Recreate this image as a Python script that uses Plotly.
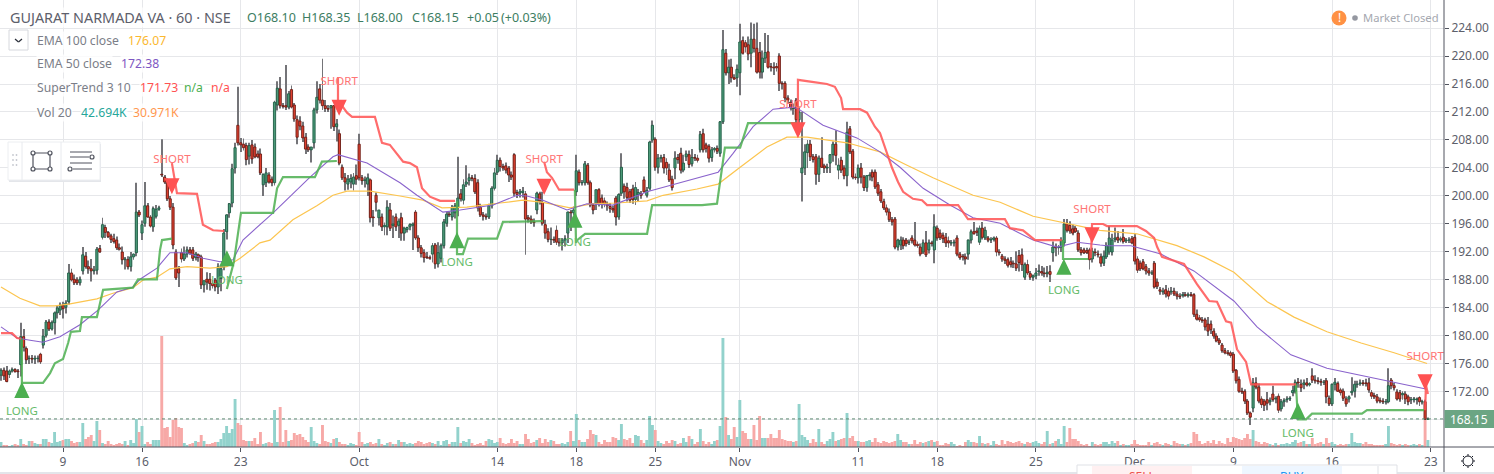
import plotly.graph_objects as go

# Candles are (open, high, low, close), one hourly bar per entry, by month.
bars_sep = [
(174.4,175.4,173.6,175.1),(175.1,175.5,173.7,174.3),(175.0,175.7,173.4,173.5),(174.5,175.2,174.0,175.0),(175.0,175.5,174.8,175.2),(175.2,175.4,174.8,174.9),(175.0,175.3,174.0,174.9),
(175.9,181.9,174.2,179.9),(179.9,181.0,177.8,178.4),(178.2,178.5,176.0,176.6),(176.8,177.2,176.0,176.8),(176.8,177.3,176.1,176.7),(176.7,177.2,176.0,176.8),(176.8,177.2,176.2,176.8),
(177.4,177.6,176.0,176.3),(178.7,181.0,178.2,180.0),(180.1,182.3,179.8,182.0),(182.0,182.4,180.7,181.0),(181.0,182.2,180.8,181.9),(181.9,183.5,180.2,183.3),(183.3,184.4,182.5,184.0),
(183.7,184.8,183.0,184.4),(184.4,184.9,182.5,183.9),(184.1,185.1,183.2,184.7),(184.9,190.3,184.5,189.0),(189.0,189.6,187.8,188.0),(188.1,188.8,187.3,187.6),(188.0,188.4,187.3,187.6),
(187.6,188.5,187.2,188.1),(189.3,192.7,188.8,191.6),(191.4,192.0,189.6,189.9),(189.9,190.8,188.9,189.6),(189.6,191.0,187.8,189.3),(189.3,190.0,188.8,189.4),(189.4,192.7,188.8,192.4),
(192.5,193.0,191.9,192.0),(194.1,196.9,193.8,195.9),(195.5,195.9,194.0,194.8),(194.8,195.0,194.0,194.2),(194.3,194.6,193.3,193.8),(193.9,194.6,193.2,193.5),(193.7,194.2,192.3,192.6),
(192.6,193.2,192.2,192.4),(192.0,192.8,190.2,190.9),(190.9,191.3,189.5,191.0),(190.9,191.4,189.5,189.9),(189.9,192.0,189.2,191.3),(191.3,191.8,190.9,191.7),(191.9,201.9,191.4,197.7),
(197.7,198.0,197.0,197.3),(194.7,196.5,193.7,195.9),(196.1,202.0,195.6,198.6),(198.6,199.0,196.9,197.0),(197.0,197.3,195.5,195.7),(195.6,198.5,194.9,198.2),(197.1,198.7,196.8,198.1),
(198.1,198.6,197.9,198.3),(203.1,208.1,202.7,203.0),(202.7,203.0,201.7,202.0),(202.0,202.5,199.3,199.6),(199.6,200.0,198.0,198.4),(198.4,199.0,192.4,193.0),(192.0,192.4,188.0,188.3),
(189.6,190.0,187.0,189.0),(191.9,192.5,190.5,191.0),(191.0,192.8,190.7,191.7),(191.7,192.8,191.2,192.3),(192.3,192.7,191.6,191.8),(192.3,192.7,190.7,191.1),(191.2,192.0,190.8,191.7),
(191.6,191.8,190.6,191.2),(191.3,191.6,186.7,187.3),(187.3,187.9,186.2,187.9),(188.1,189.1,186.6,187.7),(188.1,189.0,186.5,187.5),(187.5,188.0,186.8,187.2),(188.0,188.3,186.4,187.0),
(187.0,190.4,186.0,189.9),(188.2,190.1,186.4,189.6),(189.8,195.3,189.4,194.7),(194.9,197.4,193.8,197.3),(197.6,199.0,196.9,198.9),(199.0,204.6,198.4,203.9),(204.0,207.6,203.2,206.9),
(210.1,215.6,207.2,207.6),(207.6,208.3,206.3,207.3),(207.4,208.2,206.5,206.9),(207.2,207.6,204.4,205.2),(205.7,207.6,204.5,207.2),(207.3,208.0,204.6,205.3),(207.0,207.5,205.4,205.6),
(206.0,206.5,205.4,205.6),(206.0,206.8,203.0,203.3),(201.6,203.2,200.0,203.1),(201.9,204.0,201.3,203.3),(203.0,203.4,201.8,202.0),(202.4,202.8,201.4,201.9),(201.9,213.6,201.5,213.4),
(213.0,216.4,212.2,215.4),(215.3,217.0,212.5,212.9),(212.9,213.3,212.5,212.8),(212.9,218.7,212.3,212.7),(212.7,215.0,212.4,214.6),(215.2,215.8,212.5,212.7),(213.0,213.3,210.6,211.0),
(210.9,211.5,207.4,208.4),(210.7,211.4,209.4,210.0),(210.0,210.6,207.7,208.3),(208.4,209.0,206.0,206.7),(207.0,207.4,206.3,206.6),(206.6,207.0,204.8,207.0),(207.6,212.6,206.8,212.3),
(212.3,216.4,211.8,214.1),(215.3,216.0,213.2,213.7),(213.7,219.6,212.3,212.9),(212.9,213.7,212.0,212.5),(212.5,213.0,212.0,212.4),(212.6,213.0,209.6,212.9),(212.9,213.0,209.3,209.9),
(209.9,211.0,207.8,210.3),(208.9,209.5,204.4,204.7),(204.1,204.5,202.3,202.6),(202.6,203.3,200.8,202.0),(201.7,203.0,200.9,202.4),(202.0,203.1,201.1,202.5),(201.7,203.3,200.8,202.7),
(202.9,204.5,201.6,202.4),
]
bars_oct = [
(207.4,208.9,202.2,202.6),(202.6,203.0,201.6,202.2),(202.2,202.8,201.2,202.3),(201.7,203.2,200.0,202.6),(202.3,202.5,196.2,196.9),(197.0,198.0,195.6,196.9),(200.1,200.5,197.8,199.1),
(196.9,198.0,195.8,198.0),(197.0,197.5,195.0,195.6),(195.6,196.2,194.4,195.8),(195.6,199.4,194.4,198.4),(198.0,199.0,195.0,195.4),(195.8,197.2,194.0,196.0),(197.0,197.5,195.0,195.6),
(195.8,196.8,194.0,196.4),(196.9,197.6,193.6,194.7),(194.7,195.6,193.6,195.4),(195.2,195.6,194.8,195.5),(195.6,196.1,195.1,195.9),(195.8,196.2,192.3,196.0),(197.7,198.0,193.7,194.0),
(194.0,194.4,192.0,192.6),(192.6,193.0,191.2,191.8),(191.9,192.4,190.5,191.2),(191.3,192.0,191.0,191.2),(191.2,191.5,190.9,191.1),(191.7,193.3,190.5,192.9),(193.0,193.3,189.6,190.3),
(190.3,193.4,189.8,191.9),(191.1,193.2,190.5,192.9),(192.9,196.7,192.5,196.3),(196.1,197.7,195.6,197.4),(197.4,197.8,197.0,197.3),(197.0,198.7,196.5,198.4),(197.6,199.0,196.8,198.6),
(198.4,205.6,197.1,199.7),(200.3,201.0,199.2,199.6),(199.4,202.4,198.8,201.6),(201.7,204.4,201.3,202.0),(202.2,203.2,201.5,202.6),(202.6,203.0,202.1,202.5),(202.5,203.1,200.3,200.6),
(201.9,202.4,197.8,198.3),(198.4,198.9,197.0,197.3),(197.3,197.7,196.5,197.1),(197.1,197.5,196.6,197.0),(197.0,198.9,196.7,198.6),(198.6,201.4,198.2,201.1),(201.1,204.0,200.8,203.3),
(203.4,205.9,203.0,205.1),(205.1,205.5,203.5,204.2),(204.2,204.6,203.6,204.0),(204.3,204.8,203.2,203.7),(204.0,204.3,202.0,203.0),(203.0,203.5,202.3,202.7),(205.9,206.1,200.0,200.4),
(200.5,200.9,199.7,200.2),(200.4,201.0,199.8,200.6),(200.5,201.3,199.8,200.7),(200.3,200.7,191.6,196.7),(196.9,197.3,196.2,196.7),(196.7,197.2,196.0,196.3),(196.3,196.8,195.6,196.2),
(198.0,200.6,197.4,200.4),(200.3,200.6,198.8,199.3),(199.1,200.6,195.8,196.1),(195.9,196.6,193.9,194.7),(194.9,195.4,193.4,193.8),(193.8,195.5,193.0,193.8),(193.8,194.2,193.3,193.7),
(195.1,195.8,193.0,193.4),(193.4,194.0,192.8,193.3),(193.3,194.0,192.2,193.7),(193.7,194.4,192.8,193.9),(194.7,197.8,193.3,197.7),(197.7,198.0,195.0,197.6),(197.6,198.5,197.3,198.0),
(200.6,205.9,200.0,203.6),(203.4,203.8,201.5,201.9),(201.9,202.3,201.5,201.9),(201.9,205.0,201.5,204.6),(204.4,204.7,201.6,201.9),(201.9,202.2,198.4,198.7),(198.7,199.0,197.4,198.0),
(198.9,200.9,198.0,200.9),(200.9,201.1,198.5,198.9),(199.7,200.2,198.2,198.9),(199.3,199.8,198.4,198.9),(198.8,199.2,197.9,198.6),(198.5,199.0,197.6,198.2),(198.2,198.6,197.6,198.0),
(199.7,200.0,195.8,197.0),(197.0,200.4,196.6,200.2),(200.4,206.1,200.0,204.1),(201.4,201.8,199.6,200.6),(201.2,201.9,199.2,199.8),(200.6,201.0,199.0,199.4),(201.0,201.6,198.9,199.5),
(199.5,202.0,198.7,201.2),(200.2,201.0,199.3,200.5),(200.3,200.7,199.6,200.1),(202.3,202.8,200.5,200.6),(200.1,201.3,199.8,200.8),(201.1,207.9,200.8,207.7),(208.0,210.8,207.6,210.1),
(208.1,208.4,203.6,204.1),(204.1,206.0,203.2,205.4),(205.4,205.9,204.8,205.5),(205.5,206.0,203.2,204.0),(204.8,205.4,203.0,204.0),(203.7,204.6,202.0,202.3),(202.4,202.9,200.8,201.2),
(204.0,206.4,202.4,205.4),(205.5,206.0,204.6,205.2),(206.1,206.9,203.2,203.7),(203.7,205.9,203.4,204.7),(205.6,206.5,205.0,206.0),(205.9,206.5,204.0,204.5),(204.6,206.7,204.2,205.5),
(205.5,206.0,205.0,205.4),(205.4,205.9,204.8,205.1),(206.6,209.3,206.2,208.8),(208.9,209.6,206.2,206.6),(207.3,207.6,206.2,206.8),(207.1,207.4,204.8,205.4),(205.5,207.0,204.9,206.6),
(206.6,207.0,206.2,206.8),(206.8,207.2,206.0,206.4),(206.1,210.7,205.6,210.6),(210.6,223.7,210.3,220.9),(220.4,221.0,217.2,217.6),(217.6,219.5,216.0,218.4),(218.4,219.6,216.2,216.9),
(216.9,217.4,216.6,216.7),(216.9,218.8,215.6,218.1),
]
bars_nov = [
(217.6,224.6,214.4,222.0),(222.2,222.8,220.2,220.4),(221.9,222.3,220.5,221.3),(221.6,222.8,219.4,220.3),(220.4,224.8,218.4,222.4),(222.4,224.6,220.5,221.1),(221.1,224.8,217.5,217.7),
(220.5,222.0,216.8,217.7),(217.7,220.8,216.8,219.7),(219.7,223.3,219.0,220.5),(220.6,223.0,218.2,218.4),(218.5,219.0,217.8,218.4),(218.4,219.1,217.3,218.3),(218.5,219.0,217.8,218.3),
(220.0,220.4,215.0,216.1),(216.1,216.4,215.2,216.0),(216.1,216.4,213.4,214.0),(214.0,214.4,213.2,213.7),(213.4,213.8,212.2,212.6),(212.5,213.2,211.6,212.6),(213.7,214.0,210.4,210.9),
(210.9,212.8,208.8,212.0),(203.3,212.0,199.2,204.0),(204.0,207.4,203.0,206.3),(206.2,208.0,204.0,207.4),(207.4,208.0,205.0,205.6),(205.6,206.0,204.8,205.2),(205.6,206.0,201.6,203.1),
(203.1,205.8,202.0,205.4),(205.4,208.4,204.0,204.1),(204.3,204.6,203.3,204.0),(204.0,204.6,203.3,204.1),(204.7,206.0,203.3,205.9),(205.9,207.8,204.9,207.4),(207.4,209.4,204.4,205.8),
(203.7,205.4,202.4,204.4),(205.1,205.6,203.3,203.7),(204.0,204.4,202.4,202.9),(202.9,210.6,201.4,209.1),(209.6,210.0,206.0,206.3),(206.4,206.7,202.4,202.7),(202.7,203.2,202.3,202.6),
(202.6,204.5,201.8,204.0),(204.0,204.7,201.8,202.7),(202.7,203.0,200.7,201.2),(201.2,203.0,200.6,202.9),(202.9,203.4,202.2,203.0),(203.4,203.8,202.1,202.7),(203.4,203.8,201.0,201.3),
(201.6,202.0,200.0,200.4),(200.6,201.0,199.0,199.3),(199.2,199.6,198.0,198.3),(198.3,198.8,197.2,197.7),(197.7,198.2,196.3,196.6),(196.6,197.0,195.8,196.3),(196.7,197.0,192.4,192.7),
(192.7,193.9,192.2,193.7),(193.0,194.2,192.3,193.7),(193.7,194.1,192.4,192.9),(193.7,194.0,192.8,193.2),(193.4,193.8,193.0,193.4),(194.0,194.4,193.2,193.6),(193.7,196.3,192.8,193.0),
(193.1,193.5,192.6,192.9),(192.7,193.2,191.4,191.7),(192.0,193.8,191.7,193.3),(193.3,195.0,191.3,191.6),(192.3,193.8,191.8,193.3),(193.3,193.6,192.8,193.2),(192.3,197.4,190.4,195.6),
(195.4,195.8,193.6,194.0),(194.7,195.2,193.7,194.1),(194.4,194.8,193.3,193.9),(194.1,194.7,192.7,193.3),(193.6,194.2,192.6,193.3),(193.3,193.7,192.9,193.3),(193.3,193.8,192.8,193.4),
(194.0,194.4,191.4,191.7),(191.7,192.0,190.9,191.2),(191.4,191.7,190.8,191.3),(191.3,191.8,190.2,191.0),(191.7,193.8,190.9,193.7),(193.7,195.2,193.2,194.9),(194.9,196.3,194.5,194.6),
(195.0,195.5,194.3,194.8),(193.4,195.8,193.0,195.4),(195.4,196.3,193.8,194.1),(194.0,195.6,193.7,195.1),(194.0,194.3,193.4,193.7),(193.7,194.1,193.3,193.8),(193.8,194.2,193.5,194.0),
(194.0,194.3,191.4,192.0),(192.0,192.4,191.5,191.9),(191.4,191.7,190.6,191.0),(191.0,191.4,190.3,190.8),(190.9,191.2,189.8,190.1),(190.6,191.3,189.8,190.2),(190.4,190.8,189.7,190.3),
(190.3,192.1,189.3,189.7),(191.5,192.3,189.2,190.5),(191.6,192.5,189.3,190.2),(188.4,190.5,188.0,190.2),(190.2,190.9,188.7,189.0),(188.9,189.3,188.0,188.4),(188.4,188.8,187.9,188.6),
(188.6,189.7,188.1,189.0),(189.2,190.2,188.6,189.3),(189.2,190.0,188.6,189.0),(189.0,189.8,188.4,188.9),(188.9,190.0,188.4,189.1),(189.2,190.1,187.7,188.8),(191.9,193.5,190.6,192.7),
(192.7,193.2,191.4,192.6),(192.6,193.0,191.6,192.7),(192.7,194.1,192.0,193.7),(193.3,196.7,192.8,196.0),(196.1,196.7,194.8,195.1),(195.8,196.4,194.6,195.0),(195.3,195.9,194.4,194.7),
(195.4,195.7,194.7,194.9),(194.7,195.1,192.0,192.3),(192.3,192.7,191.5,191.9),(192.3,192.6,191.7,191.9),(192.2,192.6,191.7,191.9),(192.3,192.6,189.5,190.9),(191.0,192.6,190.5,192.1),
(192.0,192.5,191.4,191.9),(191.7,192.2,191.2,191.6),(191.3,191.8,189.9,190.4),(190.4,192.2,190.0,191.4),(191.3,193.4,191.0,192.9),(192.0,195.7,191.6,194.0),(192.0,194.6,191.5,193.7),
(193.8,195.5,193.4,194.0),(194.1,195.0,193.3,193.7),(193.7,194.2,193.4,193.9),(194.1,195.3,193.2,193.5),(193.6,194.0,193.3,193.7),(193.7,194.1,193.3,193.7),(193.9,194.3,193.1,193.3),
]
bars_dec = [
(194.1,194.6,190.2,190.7),(191.0,191.4,189.0,189.4),(190.4,190.8,189.3,189.6),(190.6,191.0,189.4,189.6),(189.9,190.3,188.8,189.3),(189.3,189.7,188.6,189.0),(189.0,189.4,188.7,189.0),
(190.4,190.7,186.8,187.0),(187.7,188.2,186.7,187.1),(186.6,187.0,185.9,186.4),(186.3,186.9,185.9,186.4),(186.6,187.3,185.5,186.0),(186.4,186.9,185.2,185.7),(186.3,187.0,185.9,186.4),
(186.4,186.9,185.7,186.0),(186.0,186.4,185.2,185.7),(185.7,186.1,185.3,185.6),(185.8,186.3,185.5,185.9),(185.9,186.3,185.6,185.8),(185.8,186.2,185.5,185.9),(185.9,186.3,185.6,185.8),
(185.9,186.1,182.7,183.1),(183.1,183.8,182.2,182.4),(182.6,183.0,182.0,182.3),(182.3,182.7,181.9,182.2),(182.3,182.6,180.8,181.3),(181.7,182.7,180.0,180.7),(181.7,182.2,180.3,180.9),
(180.7,181.1,179.6,180.0),(180.0,180.4,179.1,179.3),(179.4,179.7,178.7,179.0),(178.7,179.0,177.6,177.9),(177.9,178.3,177.4,177.6),(177.6,178.0,177.2,177.5),(177.6,177.9,176.9,177.2),
(177.4,177.7,174.7,175.0),(175.1,175.3,173.2,173.6),(173.8,174.2,171.9,172.1),(172.1,172.6,171.7,172.0),(172.1,172.4,170.3,170.7),(170.7,171.0,168.7,169.0),(169.0,169.2,167.3,168.4),
(169.7,174.0,169.1,173.3),(173.3,174.1,172.4,172.7),(172.7,173.2,170.4,170.7),(171.0,171.4,169.7,170.2),(170.7,171.0,169.3,170.1),(170.9,172.0,169.4,170.4),(170.6,171.2,170.1,170.8),
(171.7,172.9,170.6,170.9),(171.0,171.4,170.4,171.1),(171.4,171.8,169.0,169.4),(169.6,171.0,169.2,170.6),(170.6,171.1,169.9,170.8),(170.9,171.4,170.5,171.0),(171.0,171.4,170.7,171.1),
(171.9,172.9,171.4,172.2),(172.1,173.8,171.8,173.4),(173.4,174.0,172.6,173.3),(173.1,173.8,172.0,172.6),(173.1,173.8,172.4,173.3),(173.3,174.0,172.8,173.0),(173.0,173.4,172.8,173.2),
(174.3,175.4,173.3,173.7),(173.7,174.4,173.2,173.6),(173.6,174.1,173.1,173.5),(173.5,173.9,172.9,173.4),(173.4,173.7,173.0,173.4),(173.6,174.0,170.4,171.3),(171.1,171.5,170.0,170.3),
(170.3,173.2,170.0,173.1),(173.1,174.0,172.2,173.4),(173.2,173.5,172.0,172.1),(172.3,172.6,171.5,171.9),(172.1,172.5,170.7,171.1),(171.0,171.4,169.9,170.3),(171.0,171.5,170.5,171.3),
(171.9,174.1,171.5,172.1),(172.1,173.6,171.2,173.1),(173.1,173.6,172.6,173.1),(173.2,173.8,172.9,173.3),(173.3,173.7,172.9,173.2),(173.3,173.9,172.8,173.2),(173.3,174.0,171.9,172.3),
(171.9,172.3,171.0,171.4),(171.5,171.9,171.0,171.3),(171.3,171.7,170.4,170.7),(170.8,171.2,170.4,170.7),(170.7,171.1,170.3,170.6),(170.6,171.0,170.2,170.6),(170.6,175.4,170.4,172.9),
(173.7,174.0,172.4,172.9),(172.9,173.3,172.2,172.6),(172.0,172.4,170.8,171.0),(171.9,172.3,170.6,171.0),(171.6,172.1,170.9,171.8),(171.7,172.1,170.3,171.0),(171.3,171.6,170.1,170.6),
(170.9,171.3,170.3,170.9),(170.9,171.3,170.5,171.0),(170.9,171.2,170.2,171.0),(171.2,171.4,170.0,170.6),(170.6,170.9,170.2,170.6),(170.6,170.9,168.0,168.1),(168.10,168.35,168.00,168.15),
]

volume_k = [
30,12,12,6,12,18,12,48,18,12, 36,36,24,18,18,48,48,30,24,90, 30,36,42,48,48,36,24,30,30,144, 48,60,72,36,156,102,24,18,36,18,
12,18,24,18,36,12,42,24,168,90, 126,18,30,18,42,42,42,666,114,120, 60,162,174,120,114,24,12,18,24,36, 30,72,36,18,18,24,30,30,48,84,
126,84,108,288,144,132,42,36,36,36, 54,18,90,18,24,30,24,222,30,240, 30,102,36,42,84,72,78,60,42,30, 120,36,24,18,132,36,30,24,48,54,
30,18,18,12,24,18,12,90,30,18, 24,30,18,24,48,18,12,24,30,18, 18,42,30,30,18,24,18,24,36,30, 18,24,30,24,18,36,12,36,42,18,
30,30,120,24,36,30,48,24,12,18, 24,12,36,48,42,24,30,54,24,18, 24,48,24,36,18,18,78,48,24,30, 42,54,24,48,30,42,36,18,18,24,
18,30,96,36,198,42,30,30,48,102, 78,72,30,18,42,30,30,60,54,42, 138,48,42,54,24,72,66,42,24,42, 186,132,102,36,24,18,36,24,42,36,
18,24,54,30,66,48,18,30,108,36, 18,30,18,36,42,126,654,180,72,48, 120,60,282,96,84,48,48,132,42,186, 54,54,54,78,54,54,102,48,42,36,
36,30,36,258,72,60,42,24,48,30, 108,30,18,36,48,90,36,42,48,54, 204,54,66,36,36,30,30,36,42,30, 54,30,24,36,30,24,30,36,78,42,
30,30,18,18,42,18,30,24,30,36, 42,30,36,12,12,24,18,30,18,6, 12,6,30,42,30,30,24,66,24,18, 24,12,36,18,12,42,18,36,30,24,
30,36,24,18,30,24,30,36,24,18, 30,96,18,24,36,48,18,126,30,114, 48,48,36,18,12,18,6,30,18,12, 18,30,30,18,36,24,36,12,18,12,
12,18,42,18,12,12,12,30,12,24, 30,18,12,24,18,12,36,24,18,18, 12,18,24,90,78,36,18,24,36,24, 42,18,36,24,18,54,30,60,54,48,
42,54,78,48,102,36,30,18,30,24, 18,12,24,12,18,18,24,18,30,42, 24,30,36,18,18,54,18,24,30,18, 54,24,30,18,12,18,12,18,18,84,
30,24,24,18,30,18,18,12,12,12, 12,18,126,24,18,12,18,12,18,12, 12,18,12,18,12,162,42,
]

ema100_bar = [0,6.7,13.8,19.1,24.5,34,39.7,46.8,50.4,55.3,59.9,66,74.1,80.1,84.8,91.8,95.4,103.5,112,117.7,122.7,130.9,141.5,149.6,156.4,165.2,177,185.1,192.2,201.8,209.9,218.4,229.1,234.8,246.8,254.3,262.1,271.6,278.7,285.8,300,311.7,321.3,330.5,344.7,354.3,366,378,389.7,402.8,417,426.6,437.2,449,458.5,470.2,482.3,494,505.7]
ema100_val = [187,185.4,184.3,184.3,184.6,185.3,186.1,186.9,188,188.4,189.6,189.9,189.7,189.9,191.1,193.3,193.7,196.6,198.6,200.1,200.7,200.7,200,199.4,198.3,198.4,199,199.4,199.1,198.3,198.9,199,199.3,200.1,201,201.7,204.1,207,208.4,208.4,207.6,206.3,204.4,202.6,200.1,199.1,197.1,196.1,195.1,194.6,192.9,191.3,189.1,184.9,182.7,180.6,179,177.6,176.07]
ema50_bar = [0,5.7,10.3,14.9,20.9,28,34.4,41.1,46.8,49.3,55.3,59.9,66,71.6,77.7,82.3,85.8,96.5,109.6,117.7,119.5,129.8,141.5,147.5,156.7,162.8,174.5,183,186.5,192.2,200.7,207.8,217,229.1,236.2,247.9,254.3,259.6,266.7,273.8,280.9,283.3,291.5,303.5,311.7,318.8,327,336.5,344.7,354.3,366,374.5,381.6,389.7,392.2,400.7,411.3,423,437.2,445.4,457.4,470.2,488,505.7]
ema50_val = [181.3,179.7,179.4,179.1,179.9,181.6,183.7,186.3,187,188.1,189.7,191.9,191.9,191.1,190.6,190.9,193.7,197.6,202.7,205.6,205.9,204.7,201.9,200.1,197.7,198,198.7,200.1,200,199.4,198,198.9,198.7,200.6,201.4,202.7,203.4,206.1,209.9,212.4,212.7,212.3,210.1,208.3,206.3,204.1,201.1,198.7,196.9,196.1,193.7,192.7,193.4,193,192.9,192.9,191.7,189.3,185,181.3,177.3,175.4,173.9,172.38]

st_up_bar = [7.4,7.4,14.9,17.4,19.1,22,23.8,24.8,28,28.7,34,35.1,36.2,46.8,48.6,55.3,56.4,57.1,59.9,60.6,None,
             80.1,82.6,83.7,84.4,85.1,96.5,97.9,100,111.3,113.8,119.1,None,
             161.7,161.7,163.8,165.6,175.9,178,192.2,None,
             203.5,203.9,204.3,207.1,229.1,230.9,248.6,253.9,256.7,262.1,264.9,282.3,None,
             376.6,376.6,385.5,None,
             459.2,459.9,462.8,464.9,482.6,484.4,504.6]
st_up_val = [179.6,173.3,173.3,174.7,176.1,176.7,179,180.6,180.7,182.7,182.7,184.7,186.6,186.9,188.1,188.1,192.3,193.7,193.9,193.9,None,
             186.7,190.6,193.7,195.9,197.6,197.6,201.1,202.7,202.7,204.9,205,None,
             199.3,191.7,191.7,193.9,193.9,196.3,196.4,None,
             200.9,193.3,193.7,194.6,194.6,198.7,198.7,198.9,206.9,206.9,210.4,210.4,None,
             193.7,191,191,None,
             173.1,168.1,168.1,168.9,168.9,169.4,169.4]
st_down_bar = [0,3.9,5.7,7.1,None,
               60.6,62.4,69.5,71.6,75.2,79.1,None,
               119.5,119.5,122.7,124.5,132.6,135.1,137.9,140.8,142.6,145,147.5,149.3,152.1,155.7,161,None,
               192.6,193.6,195.4,197.9,203.2,None,
               282.6,282.6,287.6,292.9,295.7,297.9,298.6,304.6,307.1,309.9,311.7,314.2,316,318.1,319.9,323.4,326.6,328.4,339.4,342.9,356,357.8,362.4,366.7,376.2,None,
               386.5,386.9,390.8,392.2,402.8,406,408.9,410,411.7,419.5,424.1,428.4,431.2,434.4,436.2,438.3,441.5,443.3,459.2,None,
               505,505.3,506]
st_down_val = [180.4,180.4,179.7,179.6,None,
               204.7,200.4,200.3,195.9,195.1,195,None,
               217,213.7,211.9,211.3,211.3,207.6,207.3,205.9,204.9,204.7,204.1,201.1,199.9,199.3,199.3,None,
               204.9,203.4,202.6,200.9,200.9,None,
               210.4,216.6,216.3,216,215.6,214,212.4,212.4,211.9,209.9,209,206.1,204,202,200.6,199.6,199.4,198.7,198.7,196.7,196.7,195.4,195.1,193.7,193.7,None,
               191.1,196,196,195.7,195.7,195,194,192.7,191.3,190.3,187.4,185,184.9,182.1,181.9,178.1,176.3,173.1,173.1,None,
               169.4,173,171.7]

long_bar = [7.4,80.1,161.7,203.5,376.9,459.9]
long_val = [172.3,191.1,193.7,196.6,189.9,169.3]
long_label_val = [169.1,187.9,190.4,193.3,186.4,166]
short_bar = [60.6,119.9,192.6,282.6,386.9,505]
short_val = [201.4,212.6,201.3,209.4,194.4,173.4]
short_label_val = [205.1,216.3,205.1,213,198,177]

x_ticks = [22,50,85,127,176,204,232,262,304,332,367,402,437,472,507]
x_labels = ["9","16","23","Oct","14","18","25","Nov","11","18","25","Dec","9","16","23"]
y_ticks = [168,172,176,180,184,188,192,196,200,204,208,212,216,220,224]
last_close = 168.15

bars = bars_sep + bars_oct + bars_nov + bars_dec
bar_index = list(range(len(bars)))
opens = [b[0] for b in bars]
highs = [b[1] for b in bars]
lows = [b[2] for b in bars]
closes = [b[3] for b in bars]

FONT = "Noto Sans"
PW, PH, ML, MB, MR = 1494, 474, 0, 27, 50
W, H = PW - MR, PH - MB
def px(x): return x / W
def py(y): return 1 - y / H

UP_BAR, DN_BAR = "#92d2cc", "#f7a9a7"
vol_colors = [UP_BAR if closes[i] >= opens[i] else DN_BAR for i in range(min(len(bars), len(volume_k)))]
rising = [c >= o for o, c in zip(opens, closes)]

fig = go.Figure()
fig.add_trace(go.Bar(x=bar_index[:len(vol_colors)], y=volume_k[:len(vol_colors)], yaxis="y2",
                     marker=dict(color=vol_colors, line_width=0), width=1.03, hoverinfo="skip"))
fig.add_trace(go.Bar(x=bar_index, y=[h - l for h, l in zip(highs, lows)], base=lows,
                     marker=dict(color="#747478", line_width=0), width=0.32, hoverinfo="skip"))
fig.add_trace(go.Bar(x=bar_index, y=[abs(c - o) for o, c in zip(opens, closes)],
                     base=[min(o, c) for o, c in zip(opens, closes)],
                     marker=dict(color=["#4b9a78" if r else "#e0402f" for r in rising],
                                 line=dict(color=["#1f5c45" if r else "#6b1c14" for r in rising], width=0.9)),
                     width=0.78, hoverinfo="skip"))
fig.add_trace(go.Scatter(x=ema100_bar, y=ema100_val, mode="lines", line=dict(color="#fcc54f", width=1.2), hoverinfo="skip"))
fig.add_trace(go.Scatter(x=ema50_bar, y=ema50_val, mode="lines", line=dict(color="#8a63cc", width=1.1), hoverinfo="skip"))
fig.add_trace(go.Scatter(x=st_up_bar, y=st_up_val, mode="lines", connectgaps=False, line=dict(color="rgba(76,175,80,0.85)", width=2.2), hoverinfo="skip"))
fig.add_trace(go.Scatter(x=st_down_bar, y=st_down_val, mode="lines", connectgaps=False, line=dict(color="rgba(255,82,82,0.85)", width=2.2), hoverinfo="skip"))

def tri_polys(bars_x, vals, up):
    xs, ys = [], []
    hw, hh = 2.7, 1.15
    for b, v in zip(bars_x, vals):
        if up:
            xs += [b - hw, b + hw, b, b - hw, None]
            ys += [v - hh, v - hh, v + hh, v - hh, None]
        else:
            xs += [b - hw, b + hw, b, b - hw, None]
            ys += [v + hh, v + hh, v - hh, v + hh, None]
    return xs, ys

lx, ly = tri_polys(long_bar, long_val, True)
sx, sy = tri_polys(short_bar, short_val, False)
fig.add_trace(go.Scatter(x=lx, y=ly, mode="lines", fill="toself", fillcolor="#4caf50", line=dict(color="#4caf50", width=0), hoverinfo="skip"))
fig.add_trace(go.Scatter(x=sx, y=sy, mode="lines", fill="toself", fillcolor="#ff5252", line=dict(color="#ff5252", width=0), hoverinfo="skip"))
fig.add_trace(go.Scatter(x=long_bar, y=long_label_val, mode="text", text=["LONG"] * len(long_bar),
                         textposition="middle center", textfont=dict(family=FONT, size=11.5, color="#66bb6a"), hoverinfo="skip"))
fig.add_trace(go.Scatter(x=short_bar, y=short_label_val, mode="text", text=["SHORT"] * len(short_bar),
                         textposition="middle center", textfont=dict(family=FONT, size=11.5, color="#ff7575"), hoverinfo="skip"))

shapes = []
def rect(x0, y0, x1, y1, fill="white", line=None, lw=1):
    shapes.append(dict(type="rect", xref="paper", yref="paper", x0=px(x0), x1=px(x1), y0=py(y0), y1=py(y1),
                       fillcolor=fill, line=dict(color=line or "rgba(0,0,0,0)", width=lw if line else 0), layer="above"))
def seg(x0, y0, x1, y1, color="#50535e", lw=1):
    shapes.append(dict(type="line", xref="paper", yref="paper", x0=px(x0), x1=px(x1), y0=py(y0), y1=py(y1),
                       line=dict(color=color, width=lw), layer="above"))
def dot(x, y, r, fill="white", line="#50535e", lw=1.2):
    shapes.append(dict(type="circle", xref="paper", yref="paper", x0=px(x - r), x1=px(x + r), y0=py(y - r), y1=py(y + r),
                       fillcolor=fill, line=dict(color=line, width=lw), layer="above"))

shapes.append(dict(type="line", xref="paper", yref="y", x0=0, x1=1, y0=last_close, y1=last_close,
                   line=dict(color="#5c8a72", width=1, dash="dot"), layer="above"))
seg(0, 447, 1494, 447, "#50535e", 1)
seg(1444, 0, 1444, 474, "#50535e", 1)
rect(1444.5, 410, 1494, 428, "#6ba583")
dot(1468, 461, 5, "white", "#131722", 1)
for dx, dy in [(0, -7), (0, 7), (-7, 0), (7, 0), (5, 5), (-5, 5), (5, -5), (-5, -5)]:
    seg(1468 + dx * 0.75, 461 + dy * 0.75, 1468 + dx, 461 + dy, "#131722", 1)
rect(0, 472, 1494, 474, "#e3e5ea")
rect(1077, 465, 1397, 476, "white", "#dfe1e6", 1)
rect(1092, 466, 1192, 476, "#fff0f1")
rect(1242, 466, 1342, 476, "#eef6ff")
seg(1378, 466, 1378, 474, "#dfe1e6", 1)
rect(9, 30, 28, 50, "white", "#d6d8dd", 1)
seg(15, 39, 18.5, 42, "#2a2e39", 1.2)
seg(18.5, 42, 22, 39, "#2a2e39", 1.2)
rect(9, 144, 101, 182, "#e4e6ea")
rect(8, 142, 100, 180, "white", "#eceef1", 1)
seg(22, 142, 22, 180, "#e8eaee", 1)
seg(61, 142, 61, 180, "#e8eaee", 1)
for gx in (13, 16.5):
    for gy in (155, 160, 165):
        dot(gx, gy, 0.9, "#c5c8cf", "#c5c8cf", 0)
rect(33, 153, 50, 169, "white", "#50535e", 1.2)
for cx, cy in [(33, 153), (50, 153), (33, 169), (50, 169)]:
    dot(cx, cy, 2)
seg(70, 152, 92, 152)
seg(70, 157, 89, 157)
dot(92, 157, 2)
seg(70, 163, 92, 163)
seg(73, 169, 92, 169)
dot(70, 169, 2)
dot(1339, 18, 7.5, "#ff9144", "#ff9144", 0)
dot(1355, 18, 2.8, "#9598a1", "#9598a1", 0)

TXT = "#7b7e88"
def label(x, y, text, color=TXT, size=12, anchor="left", bg=None, fam=FONT):
    d = dict(xref="paper", yref="paper", x=px(x), y=py(y), text=text, showarrow=False, xanchor=anchor, yanchor="middle",
             font=dict(family=fam, size=size, color=color), borderpad=0)
    if bg:
        d["bgcolor"] = bg
    return d

WHITE = "rgba(255,255,255,0.8)"
GREEN = "#3c7d62"
annotations = [
    label(9, 17, "GUJARAT NARMADA VA · 60 · NSE", "#5d606b", 14.4, bg="rgba(255,255,255,0.7)"),
    label(246, 18, "O168.10", GREEN, 12.5),
    label(301, 18, "H168.35", GREEN, 12.5),
    label(356, 18, "L168.00", GREEN, 12.5),
    label(411, 18, "C168.15", GREEN, 12.5),
    label(466, 18, "+0.05", GREEN, 12.5),
    label(500, 18, "(+0.03%)", GREEN, 12.5),
    label(36, 40, "EMA 100 close", TXT, 12.2, bg=WHITE),
    label(127, 40, "176.07", "#fbb82f", 12.2, bg=WHITE),
    label(36, 64, "EMA 50 close", TXT, 12.2, bg=WHITE),
    label(120, 64, "172.38", "#7e57c2", 12.2, bg=WHITE),
    label(36, 88, "SuperTrend 3 10", TXT, 12.2, bg=WHITE),
    label(139, 88, "171.73", "#ff5252", 12.2, bg=WHITE),
    label(183, 88, "n/a", "#4caf50", 12.2, bg=WHITE),
    label(210, 88, "n/a", "#ff5252", 12.2, bg=WHITE),
    label(36, 112, "Vol 20", TXT, 12.2, bg=WHITE),
    label(80, 112, "42.694K", "#26a69a", 12.2, bg=WHITE),
    label(132, 112, "30.971K", "#ff9850", 12.2, bg=WHITE),
    label(1339, 18, "!", "white", 12, "center"),
    label(1362, 18, "Market Closed", "#a5a8b0", 11.2),
    label(1469, 419, "168.15", "white", 12, "center"),
    label(1142, 476, "SELL", "#ef5350", 12, "center"),
    label(1292, 476, "BUY", "#2196f3", 12, "center"),
]

fig.update_layout(
    width=PW, height=PH, margin=dict(l=ML, r=MR, t=0, b=MB, pad=0),
    paper_bgcolor="white", plot_bgcolor="white", showlegend=False, hovermode=False,
    barmode="overlay", dragmode=False, shapes=shapes, annotations=annotations,
    xaxis=dict(range=[-0.355, 511.7], tickmode="array", tickvals=x_ticks, ticktext=x_labels, showgrid=True,
               gridcolor="#e6e7ea", gridwidth=1, zeroline=False, showline=False, ticks="outside", ticklen=4,
               tickcolor="#50535e", tickfont=dict(family=FONT, size=12, color="#5d606b"), fixedrange=True),
    yaxis=dict(range=[164.14, 228.0], side="right", tickmode="array", tickvals=y_ticks,
               ticktext=[f"{v:.2f}" for v in y_ticks], showgrid=True, gridcolor="#e6e7ea", gridwidth=1, zeroline=False,
               showline=False, ticks="outside", ticklen=4, tickcolor="#50535e",
               tickfont=dict(family=FONT, size=12, color="#5d606b"), fixedrange=True),
    yaxis2=dict(range=[0, 2682], overlaying="y", visible=False, fixedrange=True),
)

fig.write_html("out.html", config={"displayModeBar": False},
               post_script="document.body.style.margin='0';document.body.style.overflow='hidden';")
